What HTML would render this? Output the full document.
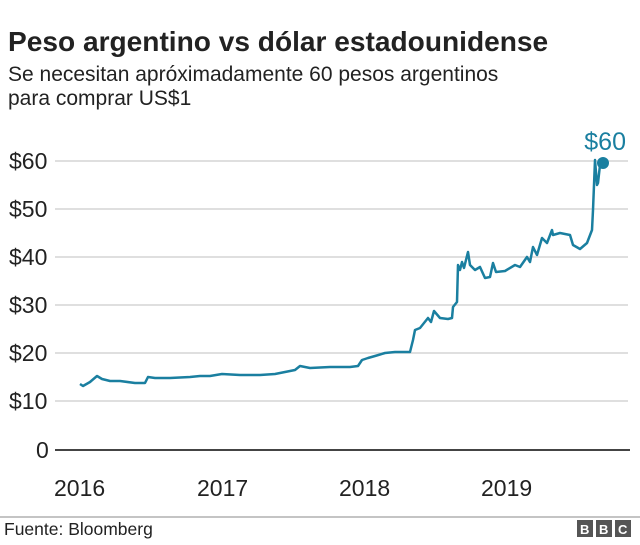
<!DOCTYPE html>
<html><head><meta charset="utf-8"><style>
body{margin:0;width:640px;height:540px;background:#fff;font-family:"Liberation Sans",Arial,sans-serif;overflow:hidden}
</style></head><body>
<svg width="640" height="540" xmlns="http://www.w3.org/2000/svg" font-family="Liberation Sans, Arial, sans-serif">
<text x="8" y="51" font-size="28.1" font-weight="bold" fill="#222">Peso argentino vs dólar estadounidense</text>
<text x="8" y="81" font-size="21" fill="#222">Se necesitan apróximadamente 60 pesos argentinos</text>
<text x="8" y="105" font-size="21" fill="#222">para comprar US$1</text>
<g stroke="#cccccc" stroke-width="1.2">
<line x1="55" y1="161" x2="628" y2="161"/>
<line x1="55" y1="209" x2="628" y2="209"/>
<line x1="55" y1="257" x2="628" y2="257"/>
<line x1="55" y1="305" x2="628" y2="305"/>
<line x1="55" y1="353" x2="628" y2="353"/>
<line x1="55" y1="401" x2="628" y2="401"/>
</g>
<line x1="55" y1="450" x2="630" y2="450" stroke="#444" stroke-width="2"/>
<g font-size="23" fill="#222">
<text x="9" y="169">$60</text>
<text x="9" y="217">$50</text>
<text x="9" y="265">$40</text>
<text x="9" y="313">$30</text>
<text x="9" y="361">$20</text>
<text x="9" y="409">$10</text>
<text x="36" y="458">0</text>
<text x="54" y="496">2016</text>
<text x="197" y="496">2017</text>
<text x="339" y="496">2018</text>
<text x="481" y="496">2019</text>
</g>
<polyline fill="none" stroke="#1a7fa0" stroke-width="2.5" stroke-linejoin="round" points="80,384 83,386 90,382 97,376 102,379 110,381 120,381 135,383 145,383 148,377 155,378 170,378 190,377 200,376 210,376 222,374 240,375 260,375 275,374 285,372 295,370 300,366 310,368 330,367 350,367 358,366 362,360 368,358 375,356 385,353 395,352 405,352 410,352 413,340 415,330 420,328 428,318 431,322 434,311 440,318 448,319 452,318 453,307 457,302 458,265 460,270 462,262 464,268 466,260 468,252 470,265 475,270 480,267 485,278 490,277 493,263 496,272 505,271 515,265 520,267 527,257 530,262 533,247 537,255 542,238 547,243 552,230 553,235 560,233 570,235 573,245 580,249 587,243 592,230 593,210 595,160 597,185 598,183 600,165 603,163"/>
<circle cx="603" cy="163" r="6" fill="#1a7fa0"/>
<text x="626" y="150" font-size="25" fill="#1a7fa0" text-anchor="end">$60</text>
<line x1="0" y1="517" x2="640" y2="517" stroke="#888" stroke-width="1"/>
<text x="4" y="535" font-size="17.5" fill="#222">Fuente: Bloomberg</text>
<g font-size="13" font-weight="bold" fill="#fff">
<rect x="577" y="520" width="16" height="17" fill="#555"/><text x="580" y="534">B</text>
<rect x="596" y="520" width="16" height="17" fill="#555"/><text x="599" y="534">B</text>
<rect x="615" y="520" width="16" height="17" fill="#555"/><text x="618" y="534">C</text>
</g>
</svg>
</body></html>
